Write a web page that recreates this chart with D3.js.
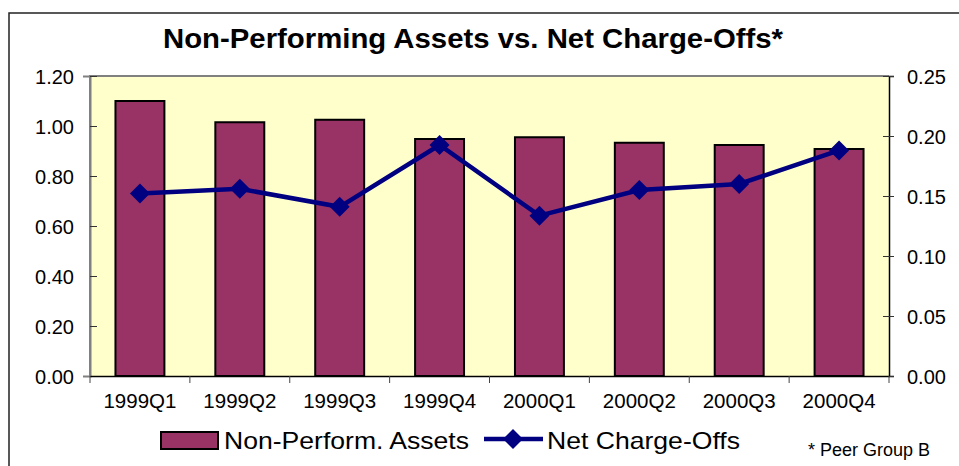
<!DOCTYPE html>
<html>
<head>
<meta charset="utf-8">
<script src="https://cdn.jsdelivr.net/npm/d3@7"></script>
<style>
  body { margin: 0; background: #fff; }
  text { font-family: Arial, "Liberation Sans", sans-serif; fill: #000; }
</style>
</head>
<body>
<svg id="render" width="959" height="466"></svg>
<script>
const quarters = ["1999Q1", "1999Q2", "1999Q3", "1999Q4", "2000Q1", "2000Q2", "2000Q3", "2000Q4"];
const npa = [1.10, 1.015, 1.025, 0.948, 0.955, 0.933, 0.924, 0.908];
const nco = [0.152, 0.156, 0.141, 0.1925, 0.1336, 0.155, 0.160, 0.188];
const leftTicks = [0, 0.2, 0.4, 0.6, 0.8, 1.0, 1.2];
const rightTicks = [0, 0.05, 0.10, 0.15, 0.20, 0.25];

const svg = d3.select("svg#render");
const plot = {left: 90, right: 889, top: 76, bottom: 376};

// outer frame
svg.append("rect")
    .attr("x", 9).attr("y", 13)
    .attr("width", 1000).attr("height", 500)
    .attr("fill", "none")
    .attr("stroke", "#222")
    .attr("stroke-width", 1.5);

svg.append("text")
    .attr("x", 473).attr("y", 48)
    .attr("text-anchor", "middle")
    .attr("font-size", 28.5)
    .attr("font-weight", "bold")
    .attr("textLength", 620)
    .attr("lengthAdjust", "spacingAndGlyphs")
    .text("Non-Performing Assets vs. Net Charge-Offs*");

const x = d3.scaleBand()
    .domain(quarters)
    .range([plot.left, plot.right])
    .paddingInner(0.51)
    .paddingOuter(0.255);
const yL = d3.scaleLinear().domain([0, 1.2]).range([plot.bottom, plot.top]);
const yR = d3.scaleLinear().domain([0, 0.25]).range([plot.bottom, plot.top]);

// plot area
svg.append("rect")
    .attr("x", plot.left).attr("y", plot.top)
    .attr("width", plot.right - plot.left)
    .attr("height", plot.bottom - plot.top)
    .attr("fill", "#FFFFCC");
svg.append("path")
    .attr("d", `M${plot.left},${plot.bottom}V${plot.top}H${plot.right}`)
    .attr("fill", "none")
    .attr("stroke", "#808080")
    .attr("stroke-width", 2);

// bars
svg.append("g")
    .selectAll("rect")
    .data(npa)
    .enter()
    .append("rect")
    .attr("x", (d, i) => x(quarters[i]))
    .attr("y", d => yL(d))
    .attr("width", x.bandwidth())
    .attr("height", d => yL(0) - yL(d))
    .attr("fill", "#993366")
    .attr("stroke", "#000")
    .attr("stroke-width", 2);

// left axis
const gL = svg.append("g")
    .attr("transform", `translate(${plot.left},0)`)
    .call(d3.axisLeft(yL).tickValues(leftTicks).tickFormat(d3.format(".2f")).tickSize(7).tickPadding(9));
gL.select(".domain").attr("stroke", "#808080").attr("stroke-width", 2);
gL.selectAll(".tick line").attr("x2", 7).attr("stroke", "#333");
gL.selectAll(".tick text").attr("font-size", 20).attr("dy", "0.35em")
    .style("font-family", "Arial, 'Liberation Sans', sans-serif");

// right axis
const gR = svg.append("g")
    .attr("transform", `translate(${plot.right},0)`)
    .call(d3.axisRight(yR).tickValues(rightTicks).tickFormat(d3.format(".2f")).tickSize(5).tickPadding(13));
gR.select(".domain").attr("stroke", "#000").attr("stroke-width", 1.5);
gR.selectAll(".tick line").attr("x1", -6).attr("stroke", "#333");
gR.selectAll(".tick text").attr("font-size", 20).attr("dy", "0.35em")
    .style("font-family", "Arial, 'Liberation Sans', sans-serif");

// bottom axis
const step = x.step();
const gB = svg.append("g")
    .attr("transform", `translate(0,${plot.bottom})`)
    .call(d3.axisBottom(x).tickSize(0).tickPadding(17));
gB.select(".domain").attr("stroke", "#000").attr("stroke-width", 1.5);
gB.selectAll(".tick text").attr("font-size", 20.5).attr("dy", "0.71em")
    .style("font-family", "Arial, 'Liberation Sans', sans-serif");
gB.selectAll(".sep")
    .data(d3.range(quarters.length + 1))
    .enter()
    .append("line")
    .attr("x1", i => plot.left + i * step)
    .attr("x2", i => plot.left + i * step)
    .attr("y1", 0).attr("y2", 7)
    .attr("stroke", "#444");

// line series
const cx = (d, i) => x(quarters[i]) + x.bandwidth() / 2;
svg.append("path")
    .datum(nco)
    .attr("d", d3.line().x(cx).y(d => yR(d)))
    .attr("fill", "none")
    .attr("stroke", "#000080")
    .attr("stroke-width", 4.5);

const diamond = (cxv, cyv, r) => `M${cxv},${cyv - r}L${cxv + r},${cyv}L${cxv},${cyv + r}L${cxv - r},${cyv}Z`;
svg.append("g")
    .selectAll("path")
    .data(nco)
    .enter()
    .append("path")
    .attr("d", (d, i) => diamond(cx(d, i), yR(d), 10))
    .attr("fill", "#000080");

// legend
const leg = svg.append("g");
leg.append("rect")
    .attr("x", 161).attr("y", 432)
    .attr("width", 57).attr("height", 17)
    .attr("fill", "#993366")
    .attr("stroke", "#000")
    .attr("stroke-width", 2);
leg.append("text")
    .attr("x", 224).attr("y", 449)
    .attr("font-size", 24)
    .attr("textLength", 245)
    .attr("lengthAdjust", "spacingAndGlyphs")
    .text("Non-Perform. Assets");
leg.append("line")
    .attr("x1", 484).attr("x2", 543)
    .attr("y1", 439).attr("y2", 439)
    .attr("stroke", "#000080")
    .attr("stroke-width", 4.5);
leg.append("path")
    .attr("d", diamond(513, 439, 10))
    .attr("fill", "#000080");
leg.append("text")
    .attr("x", 547).attr("y", 449)
    .attr("font-size", 24)
    .attr("textLength", 193)
    .attr("lengthAdjust", "spacingAndGlyphs")
    .text("Net Charge-Offs");

svg.append("text")
    .attr("x", 808).attr("y", 456)
    .attr("font-size", 18)
    .text("* Peer Group B");
</script>
</body>
</html>
